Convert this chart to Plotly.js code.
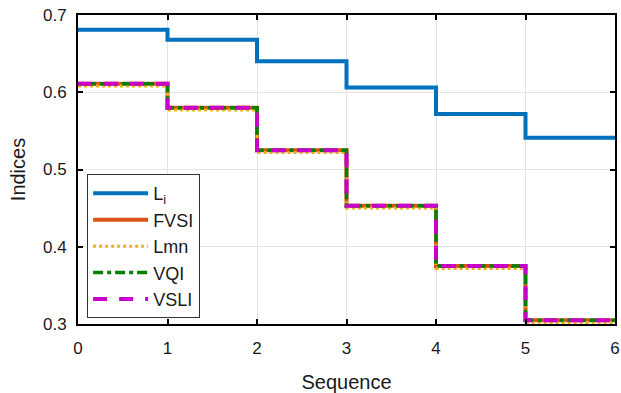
<!DOCTYPE html>
<html>
<head>
<meta charset="utf-8">
<script src="https://cdn.plot.ly/plotly-3.0.1.min.js"></script>
<style>html,body{margin:0;padding:0;background:#fff;}#chart{width:621px;height:393px;}</style>
</head>
<body>
<div id="chart"></div>
<script>
const sequence = [0, 1, 2, 3, 4, 5, 6];
const Li   = [0.681, 0.668, 0.640, 0.606, 0.572, 0.541, 0.541];
const FVSI = [0.611, 0.580, 0.525, 0.453, 0.375, 0.305, 0.305];
const Lmn  = [0.608, 0.577, 0.522, 0.450, 0.372, 0.302, 0.302];
const VQI  = [0.611, 0.580, 0.525, 0.453, 0.375, 0.305, 0.305];
const VSLI = [0.611, 0.580, 0.525, 0.453, 0.375, 0.305, 0.305];
const names = ['L<sub>i</sub>', 'FVSI', 'Lmn', 'VQI', 'VSLI'];

const mk = (y, name, color, width, dash) => ({
  x: sequence, y: y, name: name, type: 'scatter', mode: 'lines',
  line: {shape: 'hv', color: color, width: width, dash: dash}
});

const data = [
  mk(Li, names[0], '#0072BD', 4, 'solid'),
  mk(FVSI, names[1], '#D95319', 4, 'solid'),
  mk(Lmn, names[2], '#EDB120', 3, 'dot'),
  mk(VQI, names[3], '#008000', 3.5, '10px,4px,4px,4px'),
  mk(VSLI, names[4], '#C800C8', 4, '14px,12px')
];

const axisCommon = {
  showline: true, linecolor: '#000', linewidth: 2, mirror: 'ticks',
  ticks: 'inside', ticklen: 5, tickwidth: 2, tickcolor: '#000',
  showgrid: true, gridcolor: '#e3e3e3', gridwidth: 1, zeroline: false,
  tickfont: {family: 'Liberation Sans, Arial, sans-serif', size: 17, color: '#1a1a1a'}
};

const layout = {
  width: 621, height: 393,
  margin: {l: 78, r: 6, t: 15, b: 69},
  paper_bgcolor: '#fff', plot_bgcolor: '#fff',
  font: {family: 'Liberation Sans, Arial, sans-serif', size: 17, color: '#1a1a1a'},
  xaxis: Object.assign({}, axisCommon, {
    range: [0, 6], dtick: 1, tick0: 0, ticklabelstandoff: 8,
    title: {text: 'Sequence', font: {size: 20}, standoff: 18}
  }),
  yaxis: Object.assign({}, axisCommon, {
    range: [0.3, 0.7], dtick: 0.1, tick0: 0.3, tickformat: '.1f', ticklabelstandoff: 6,
    title: {text: 'Indices', font: {size: 20}, standoff: 12}
  }),
  showlegend: true,
  legend: {
    x: 0.017, y: 0.485, xanchor: 'left', yanchor: 'top',
    bgcolor: '#fff', bordercolor: '#333', borderwidth: 1,
    font: {size: 18, color: '#1a1a1a'}, itemwidth: 55
  }
};

Plotly.newPlot('chart', data, layout, {displayModeBar: false, staticPlot: true});
</script>
</body>
</html>
